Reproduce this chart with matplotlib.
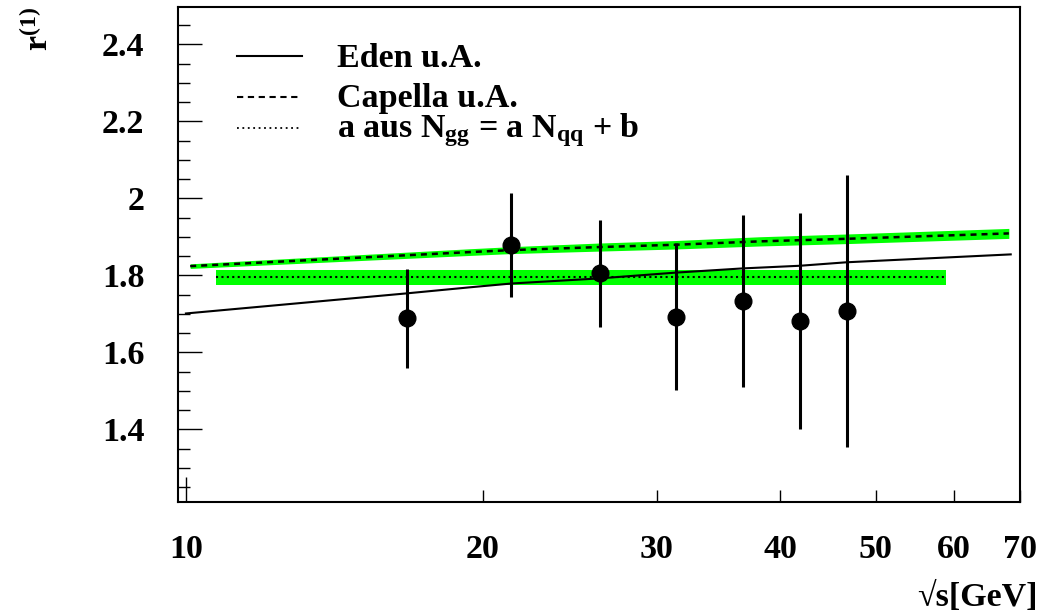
import matplotlib
matplotlib.use("Agg")
import matplotlib.pyplot as plt
from matplotlib.ticker import FixedLocator, FixedFormatter, NullFormatter, MultipleLocator

plt.rcParams['font.family'] = ['Liberation Serif', 'DejaVu Serif']
plt.rcParams['font.weight'] = 'bold'
plt.rcParams['mathtext.fontset'] = 'custom'
plt.rcParams['mathtext.rm'] = 'Liberation Serif:bold'
plt.rcParams['mathtext.bf'] = 'Liberation Serif:bold'
plt.rcParams['mathtext.it'] = 'Liberation Serif:bold:italic'

# measured r^(1) per energy bin
sqrt_s = [16.75, 21.37, 26.25, 31.35, 36.64, 41.92, 46.73]
r1 = [1.688, 1.879, 1.805, 1.693, 1.734, 1.681, 1.707]
r1_err = [0.128, 0.135, 0.139, 0.190, 0.224, 0.280, 0.353]

# Eden prediction
eden_x = [10.0, 16.7, 19.4, 21.4, 26.2, 31.3, 36.6, 41.9, 46.7, 68.5]
eden_y = [1.701, 1.753, 1.769, 1.779, 1.792, 1.807, 1.818, 1.825, 1.834, 1.8545]

# Capella prediction with its uncertainty band
capella_x = [10.1, 19.4, 21.4, 26.2, 31.3, 38.1, 46.7, 68.2]
capella_y = [1.824, 1.8605, 1.8657, 1.8735, 1.8795, 1.8883, 1.895, 1.909]
capella_err = [0.006, 0.0087, 0.009, 0.0105, 0.011, 0.012, 0.0125, 0.013]

# a from the fit N_gg = a N_qq + b
fit_x = [10.72, 58.9]
fit_a = 1.795
fit_a_err = 0.020

xtick_vals = [10, 20, 30, 40, 50, 60, 70]
xtick_labels = ['10', '20', '30', '40', '50', '60', '70']
ytick_vals = [1.4, 1.6, 1.8, 2.0, 2.2, 2.4]
ytick_labels = ['1.4', '1.6', '1.8', '2', '2.2', '2.4']

GREEN = '#00ff00'
FS = 24.5

fig = plt.figure(figsize=(10.46, 6.12), dpi=100)
ax = fig.add_axes([177.7 / 1046, 1 - 501.7 / 612, (1020 - 177.7) / 1046, (501.7 - 6.7) / 612])
ax.set_xscale('log')
ax.set_xlim(9.81, 70)
ax.set_ylim(1.212, 2.498)

# bands
cap_lo = [y - e for y, e in zip(capella_y, capella_err)]
cap_hi = [y + e for y, e in zip(capella_y, capella_err)]
ax.fill_between(capella_x, cap_lo, cap_hi, color=GREEN, lw=0, zorder=1)
ax.fill_between(fit_x, [fit_a - fit_a_err] * 2, [fit_a + fit_a_err] * 2, color=GREEN, lw=0, zorder=1)

# curves
ax.plot(eden_x, eden_y, color='black', lw=1.5, zorder=3)
ax.plot(capella_x, capella_y, color='black', lw=1.8, dashes=(2.4, 2.0), zorder=3)
ax.plot(fit_x, [fit_a] * 2, color='black', lw=1.5, dashes=(1.0, 1.6), zorder=3)

# data
ax.errorbar(sqrt_s, r1, yerr=r1_err, fmt='o', color='black', ms=12, elinewidth=2.2,
            capsize=0, zorder=4)

# spines
for sp in ax.spines.values():
    sp.set_linewidth(1.5)

# x axis ticks
ax.xaxis.set_major_locator(FixedLocator(xtick_vals))
ax.xaxis.set_major_formatter(FixedFormatter(xtick_labels))
ax.xaxis.set_minor_locator(FixedLocator([]))
ax.xaxis.set_minor_formatter(NullFormatter())
ax.tick_params(axis='x', which='major', direction='in', length=8.6, width=1.0,
               pad=23, labelsize=FS, top=False, bottom=True)
ax.xaxis.get_major_ticks()[0].tick1line.set_markersize(18)

# y axis ticks
ax.yaxis.set_major_locator(FixedLocator(ytick_vals))
ax.yaxis.set_major_formatter(FixedFormatter(ytick_labels))
ax.yaxis.set_minor_locator(MultipleLocator(0.05))
ax.tick_params(axis='y', which='major', direction='in', length=17, width=1.0,
               pad=24, labelsize=FS, left=True, right=False)
ax.tick_params(axis='y', which='minor', direction='in', length=8.6, width=1.0,
               left=True, right=False)
for lab in ax.get_xticklabels() + ax.get_yticklabels():
    lab.set_fontweight('bold')

# axis titles
fig.text(39 / 1046, 1 - 29 / 612, r'$\mathbf{r}^{\mathbf{(1)}}$', rotation=90,
         ha='center', va='center', fontsize=FS)
fig.text(1038 / 1046, 1 - 606 / 612, '√s[GeV]', ha='right', va='baseline',
         fontsize=FS, fontweight='bold')

# legend
def fx(px):
    return (px - 177.7) / (1020 - 177.7)

def fy(py):
    return (501.7 - py) / (501.7 - 6.7)

leg_x = [fx(237.3), fx(301.7)]
ax.plot(leg_x, [fy(55.7)] * 2, transform=ax.transAxes, color='black', lw=1.5)
ax.plot(leg_x, [fy(96.7)] * 2, transform=ax.transAxes, color='black', lw=1.5, dashes=(3.0, 2.2))
ax.plot(leg_x, [fy(128.3)] * 2, transform=ax.transAxes, color='black', lw=1.3, dashes=(1.0, 2.0))
ax.text(fx(337.3), fy(66.7), 'Eden u.A.', transform=ax.transAxes, fontsize=FS,
        fontweight='bold', va='baseline', ha='left')
ax.text(fx(337.3), fy(106.7), 'Capella u.A.', transform=ax.transAxes, fontsize=FS,
        fontweight='bold', va='baseline', ha='left')
ax.text(fx(337.3), fy(137.3), r'a aus N$_{\mathbf{gg}}$ = a N$_{\mathbf{qq}}$ + b',
        transform=ax.transAxes, fontsize=FS, fontweight='bold', va='baseline', ha='left')

fig.savefig('out.png', dpi=100)
